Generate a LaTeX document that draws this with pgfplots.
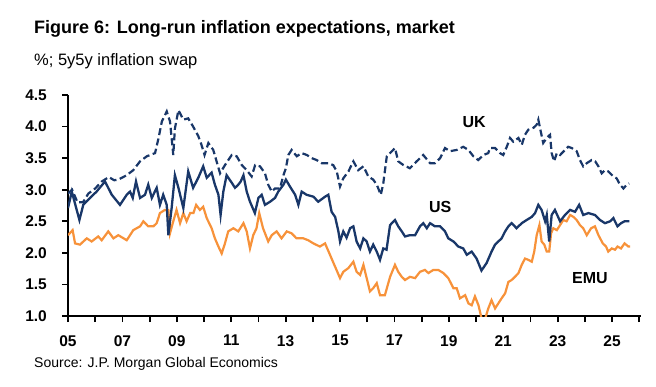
\documentclass[border=0pt]{standalone}
\usepackage{pgfplots}
\pgfplotsset{compat=1.18}
\usepackage{fontspec}
\setmainfont{Liberation Sans}
\definecolor{jpnavy}{RGB}{25,55,105}
\definecolor{jporange}{RGB}{247,146,58}
\begin{document}
\begin{tikzpicture}
\path[use as bounding box] (0bp,0bp) rectangle (656bp,-387bp);
\node[anchor=base west,inner sep=0pt,font=\fontsize{18bp}{22bp}\selectfont\bfseries] at (34bp,-33bp) {Figure 6: Long-run inflation expectations, market};
\node[anchor=base west,inner sep=0pt,font=\fontsize{16.5bp}{20bp}\selectfont] at (34bp,-65bp) {\%; 5y5y inflation swap};
\node[anchor=base west,inner sep=0pt,font=\fontsize{14bp}{17bp}\selectfont] at (34bp,-367bp) {Source: J.P. Morgan Global Economics};
\begin{axis}[
  at={(68bp,-316bp)}, anchor=south west,
  scale only axis, width=572.6bp, height=221bp,
  xmin=2005, xmax=2026.05, ymin=1, ymax=4.5,
  axis x line*=bottom, axis y line*=left,
  axis line style={-, line width=1.8bp, black},
  tick align=outside,
  major tick length=6bp, minor tick length=6bp,
  tick style={black, line width=1.8bp},
  xtick={2005,2007,...,2025},
  xticklabels={05,07,09,11,13,15,17,19,21,23,25},
  minor xtick={2006,2008,...,2026},
  ytick={1,1.5,...,4.5},
  /pgf/number format/fixed, /pgf/number format/fixed zerofill,
  /pgf/number format/precision=1, /pgf/number format/assume math mode=true,
  ticklabel style={font=\fontsize{15.5bp}{18bp}\selectfont\bfseries, inner sep=0pt},
  xticklabel shift=13bp,
  yticklabel shift=15bp,
]
% EMU
\addplot[jporange, line width=2.2bp] coordinates {
(2005.0,2.28) (2005.17,2.36) (2005.26,2.15) (2005.44,2.13) (2005.69,2.23) (2005.87,2.18)
(2006.11,2.26) (2006.24,2.20) (2006.48,2.34) (2006.67,2.23) (2006.85,2.28) (2007.16,2.20)
(2007.4,2.36) (2007.65,2.42) (2007.77,2.50) (2007.95,2.42) (2008.14,2.42) (2008.26,2.47)
(2008.38,2.63) (2008.56,2.68) (2008.69,2.68) (2008.75,2.31) (2008.87,2.50) (2008.99,2.68)
(2009.12,2.47) (2009.24,2.63) (2009.36,2.50) (2009.49,2.63) (2009.61,2.63) (2009.71,2.76)
(2009.85,2.68) (2009.97,2.73) (2010.1,2.55) (2010.28,2.39) (2010.4,2.23) (2010.53,2.10)
(2010.65,1.99) (2010.77,2.15) (2010.89,2.34) (2011.08,2.39) (2011.26,2.34) (2011.45,2.47)
(2011.57,2.34) (2011.69,2.07) (2011.81,2.28) (2011.93,2.39) (2012.03,2.63) (2012.17,2.39)
(2012.36,2.18) (2012.49,2.28) (2012.67,2.34) (2012.85,2.23) (2013.04,2.34) (2013.22,2.31)
(2013.4,2.23) (2013.65,2.23) (2013.83,2.20) (2014.02,2.15) (2014.26,2.10) (2014.45,2.15)
(2014.63,1.97) (2014.82,1.78) (2015.0,1.60) (2015.12,1.70) (2015.31,1.76) (2015.49,1.86)
(2015.61,1.70) (2015.74,1.65) (2015.86,1.81) (2015.98,1.60) (2016.1,1.39) (2016.22,1.44)
(2016.35,1.52) (2016.47,1.33) (2016.65,1.33) (2016.84,1.62) (2017.02,1.81) (2017.14,1.70)
(2017.27,1.62) (2017.39,1.57) (2017.57,1.62) (2017.76,1.60) (2017.94,1.70) (2018.12,1.73)
(2018.25,1.68) (2018.43,1.73) (2018.61,1.73) (2018.8,1.68) (2018.98,1.60) (2019.17,1.44)
(2019.29,1.44) (2019.41,1.28) (2019.6,1.33) (2019.72,1.20) (2019.84,1.17) (2019.96,1.31)
(2020.09,1.17) (2020.21,0.95) (2020.33,0.95) (2020.45,1.12) (2020.57,1.25) (2020.7,1.12)
(2020.82,1.20) (2020.94,1.28) (2021.07,1.36) (2021.19,1.54) (2021.31,1.57) (2021.43,1.62)
(2021.56,1.68) (2021.68,1.81) (2021.8,1.91) (2021.92,1.89) (2022.05,1.86) (2022.14,2.02)
(2022.23,2.28) (2022.33,2.44) (2022.41,2.18) (2022.51,2.13) (2022.6,2.02) (2022.69,2.02)
(2022.76,2.31) (2022.84,2.39) (2022.97,2.36) (2023.09,2.44) (2023.21,2.52) (2023.33,2.50)
(2023.46,2.60) (2023.58,2.57) (2023.7,2.52) (2023.82,2.44) (2023.94,2.39) (2024.07,2.28)
(2024.23,2.39) (2024.37,2.42) (2024.5,2.28) (2024.66,2.15) (2024.78,2.10) (2024.86,2.02)
(2024.99,2.07) (2025.11,2.05) (2025.2,2.10) (2025.33,2.07) (2025.46,2.15) (2025.6,2.10)
(2025.66,2.10)
};
% US
\addplot[jpnavy, line width=2.3bp] coordinates {
(2005.0,2.71) (2005.14,2.97) (2005.42,2.52) (2005.56,2.76) (2005.81,2.87) (2005.93,2.92)
(2006.05,2.97) (2006.36,3.13) (2006.61,2.92) (2006.91,2.76) (2007.16,2.92) (2007.28,2.97)
(2007.38,2.87) (2007.5,3.13) (2007.65,2.87) (2007.83,2.92) (2007.95,3.08) (2008.08,2.87)
(2008.26,3.03) (2008.38,2.76) (2008.5,2.92) (2008.63,2.76) (2008.69,2.28) (2008.81,2.71)
(2008.93,3.23) (2009.06,3.03) (2009.24,2.71) (2009.42,3.29) (2009.6,3.03) (2009.79,3.19)
(2009.97,3.37) (2010.1,3.19) (2010.28,3.27) (2010.4,3.08) (2010.53,2.92) (2010.61,2.60)
(2010.71,2.97) (2010.83,3.23) (2011.02,3.11) (2011.14,3.03) (2011.26,3.08) (2011.35,3.13)
(2011.45,3.23) (2011.57,2.97) (2011.69,2.81) (2011.87,2.63) (2012.0,2.87) (2012.12,2.92)
(2012.24,2.76) (2012.43,2.81) (2012.61,2.87) (2012.73,2.97) (2012.92,3.08) (2013.01,3.16)
(2013.16,3.05) (2013.35,2.92) (2013.47,2.76) (2013.59,2.97) (2013.77,2.92) (2014.02,2.89)
(2014.2,2.81) (2014.45,2.89) (2014.57,2.92) (2014.69,2.65) (2014.82,2.57) (2014.94,2.34)
(2015.0,2.18) (2015.12,2.34) (2015.24,2.24) (2015.37,2.39) (2015.49,2.42) (2015.61,2.18)
(2015.74,2.07) (2015.86,2.23) (2015.98,2.18) (2016.1,2.02) (2016.22,2.13) (2016.35,2.02)
(2016.47,1.89) (2016.59,2.07) (2016.71,2.05) (2016.84,2.44) (2017.02,2.52) (2017.14,2.42)
(2017.27,2.34) (2017.39,2.26) (2017.57,2.28) (2017.76,2.28) (2017.94,2.42) (2018.06,2.47)
(2018.19,2.39) (2018.31,2.47) (2018.49,2.42) (2018.68,2.42) (2018.86,2.34) (2018.98,2.23)
(2019.17,2.18) (2019.35,2.10) (2019.53,2.07) (2019.66,1.97) (2019.84,2.02) (2020.02,1.91)
(2020.2,1.72) (2020.39,1.84) (2020.57,2.02) (2020.7,2.13) (2020.82,2.18) (2020.94,2.23)
(2021.07,2.34) (2021.19,2.42) (2021.31,2.47) (2021.49,2.39) (2021.68,2.47) (2021.86,2.52)
(2022.05,2.57) (2022.17,2.63) (2022.29,2.76) (2022.41,2.68) (2022.54,2.50) (2022.6,2.60)
(2022.69,2.18) (2022.78,2.60) (2022.9,2.68) (2023.09,2.50) (2023.27,2.60) (2023.46,2.68)
(2023.64,2.65) (2023.79,2.76) (2023.94,2.60) (2024.13,2.63) (2024.37,2.60) (2024.56,2.52)
(2024.74,2.47) (2024.93,2.50) (2025.05,2.55) (2025.2,2.42) (2025.33,2.47) (2025.46,2.50)
(2025.64,2.50)
};
% UK
\addplot[jpnavy, line width=2.2bp, dash pattern=on 7bp off 3.5bp] coordinates {
(2005.0,2.94) (2005.15,3.00) (2005.35,2.80) (2005.55,2.80) (2005.75,2.94) (2006.0,3.02)
(2006.24,3.13) (2006.5,3.20) (2006.7,3.15) (2006.85,3.16) (2007.16,3.23) (2007.4,3.31)
(2007.65,3.45) (2007.9,3.53) (2008.2,3.58) (2008.33,3.82) (2008.45,4.08) (2008.63,4.24)
(2008.75,4.08) (2008.87,3.55) (2008.93,3.97) (2009.06,4.26) (2009.24,4.11) (2009.42,4.13)
(2009.6,4.00) (2009.79,3.85) (2009.9,3.72) (2010.02,3.55) (2010.16,3.74) (2010.34,3.63)
(2010.59,3.26) (2010.77,3.39) (2011.02,3.55) (2011.2,3.53) (2011.39,3.39) (2011.57,3.31)
(2011.75,3.21) (2011.88,3.39) (2012.06,3.37) (2012.24,3.26) (2012.36,3.08) (2012.49,2.97)
(2012.61,3.02) (2012.79,3.02) (2012.92,3.23) (2013.01,3.34) (2013.1,3.55) (2013.22,3.63)
(2013.41,3.53) (2013.59,3.58) (2013.78,3.55) (2013.96,3.50) (2014.14,3.47) (2014.33,3.42)
(2014.57,3.42) (2014.75,3.39) (2014.88,3.29) (2015.0,3.05) (2015.12,3.18) (2015.31,3.29)
(2015.49,3.45) (2015.67,3.31) (2015.86,3.37) (2016.04,3.21) (2016.22,3.16) (2016.35,3.08)
(2016.5,2.92) (2016.59,3.10) (2016.72,3.53) (2016.84,3.58) (2017.02,3.66) (2017.14,3.45)
(2017.33,3.39) (2017.57,3.34) (2017.82,3.45) (2018.06,3.55) (2018.31,3.42) (2018.49,3.42)
(2018.68,3.50) (2018.86,3.66) (2019.04,3.61) (2019.29,3.63) (2019.53,3.68) (2019.72,3.63)
(2019.9,3.53) (2020.08,3.47) (2020.27,3.55) (2020.45,3.58) (2020.51,3.66) (2020.7,3.66)
(2020.88,3.58) (2021.0,3.55) (2021.13,3.68) (2021.25,3.82) (2021.37,3.76) (2021.56,3.82)
(2021.68,3.71) (2021.8,3.87) (2021.92,3.95) (2022.11,3.98) (2022.23,4.03) (2022.29,4.11)
(2022.38,3.92) (2022.47,3.74) (2022.6,3.82) (2022.72,3.87) (2022.78,3.58) (2022.87,3.45)
(2022.97,3.58) (2023.09,3.55) (2023.27,3.63) (2023.39,3.68) (2023.52,3.66) (2023.7,3.61)
(2023.82,3.47) (2023.94,3.37) (2024.07,3.42) (2024.25,3.47) (2024.38,3.45) (2024.5,3.37)
(2024.62,3.26) (2024.74,3.31) (2024.86,3.29) (2025.05,3.21) (2025.17,3.18) (2025.29,3.08)
(2025.42,3.02) (2025.54,3.08) (2025.63,3.10)
};
\node[font=\fontsize{16bp}{19bp}\selectfont\bfseries] at (axis cs:2019.93,4.07) {UK};
\node[font=\fontsize{16bp}{19bp}\selectfont\bfseries] at (axis cs:2018.68,2.73) {US};
\node[font=\fontsize{16bp}{19bp}\selectfont\bfseries] at (axis cs:2024.19,1.60) {EMU};
\end{axis}
\end{tikzpicture}
\end{document}
